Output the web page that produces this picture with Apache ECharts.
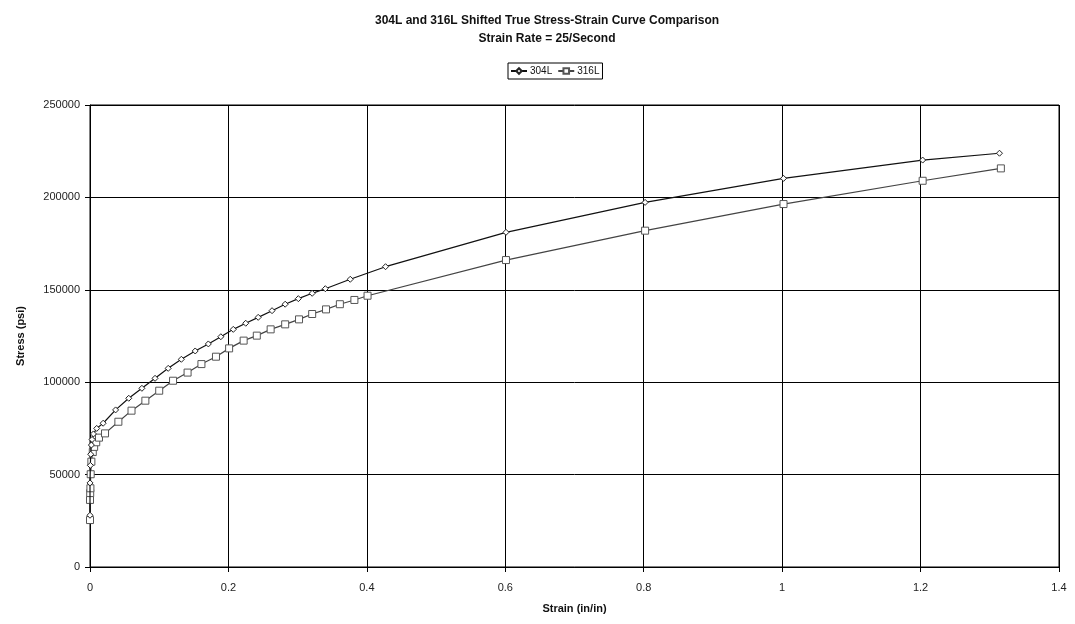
<!DOCTYPE html>
<html>
<head>
<meta charset="utf-8">
<script src="https://cdn.jsdelivr.net/npm/echarts@6/dist/echarts.min.js"></script>
<style>html,body{margin:0;padding:0;background:#fff;}#c{width:1075px;height:624px;}</style>
</head>
<body>
<div id="c"></div>
<script>
const titleText = "304L and 316L Shifted True Stress-Strain Curve Comparison\nStrain Rate = 25/Second";
const xName = "Strain (in/in)";
const yName = "Stress (psi)";
const xTicks = [0, 0.2, 0.4, 0.6, 0.8, 1, 1.2, 1.4];
const yTicks = [0, 50000, 100000, 150000, 200000, 250000];

const strain304 = [0, 0, 0.0005, 0.001, 0.002, 0.003, 0.005, 0.0097, 0.019, 0.037, 0.056, 0.075, 0.094, 0.113, 0.132, 0.152, 0.171, 0.189, 0.207, 0.225, 0.243, 0.263, 0.282, 0.301, 0.321, 0.340, 0.376, 0.427, 0.601, 0.802, 1.002, 1.203, 1.314];
const stress304 = [28000, 45500, 55000, 61000, 66000, 69000, 72000, 75000, 77800, 85000, 91300, 96700, 102100, 107500, 112400, 116900, 120700, 124600, 128600, 131900, 135100, 138700, 142200, 145200, 148100, 150600, 155700, 162500, 181100, 197300, 210300, 220200, 223900];

const strain316 = [0, 0, 0.0003, 0.0006, 0.001, 0.002, 0.004, 0.006, 0.009, 0.013, 0.0217, 0.041, 0.060, 0.080, 0.100, 0.120, 0.141, 0.161, 0.182, 0.201, 0.222, 0.241, 0.261, 0.282, 0.302, 0.321, 0.341, 0.361, 0.382, 0.401, 0.601, 0.802, 1.002, 1.203, 1.316];
const stress316 = [25400, 36300, 40000, 42600, 50200, 57000, 62200, 65000, 67500, 70000, 72300, 78600, 84600, 90000, 95400, 100800, 105200, 109800, 113800, 118300, 122500, 125200, 128600, 131300, 134000, 136900, 139400, 142200, 144500, 146800, 166100, 182000, 196400, 209000, 215700];

const zip = (a, b) => a.map((v, i) => [v, b[i]]);

const chart = echarts.init(document.getElementById('c'), null, {renderer: 'canvas'});
const font = 'Liberation Sans, Arial, sans-serif';
chart.setOption({
  animation: false,
  backgroundColor: '#fff',
  title: {
    text: titleText,
    left: 542, textAlign: 'center', top: 7,
    textStyle: {fontFamily: font, fontSize: 12, fontWeight: 'bold', color: '#111', lineHeight: 18}
  },
  legend: {
    top: 63, left: 508,
    data: ['304L', '316L'],
    itemWidth: 16, itemHeight: 7, itemGap: 5,
    padding: [3, 3, 3, 2],
    borderColor: '#000', borderWidth: 1,
    textStyle: {fontFamily: font, fontSize: 10, color: '#111', padding: [0,0,0,-2]}
  },
  grid: {left: 90, right: 16, top: 105, bottom: 57, show: true, borderColor: '#000', borderWidth: 1},
  xAxis: {
    type: 'value', min: 0, max: 1.4, interval: 0.2,
    name: xName, nameLocation: 'middle', nameGap: 36,
    nameTextStyle: {fontFamily: font, fontSize: 11, fontWeight: 'bold', color: '#111'},
    axisLine: {lineStyle: {color: '#000', width: 1}},
    axisTick: {show: true, length: 5, lineStyle: {color: '#000'}},
    axisLabel: {fontFamily: font, fontSize: 11, color: '#222', margin: 15,
      formatter: v => String(+v.toFixed(1))},
    splitLine: {show: true, lineStyle: {color: '#000', width: 1}}
  },
  yAxis: {
    type: 'value', min: 0, max: 250000, interval: 50000,
    name: yName, nameLocation: 'middle', nameGap: 64, nameRotate: 90,
    nameTextStyle: {fontFamily: font, fontSize: 11, fontWeight: 'bold', color: '#111'},
    axisLine: {show: true, lineStyle: {color: '#000', width: 1}},
    axisTick: {show: true, length: 5, lineStyle: {color: '#000'}},
    axisLabel: {fontFamily: font, fontSize: 11, color: '#222', margin: 10,
      formatter: v => String(v)},
    splitLine: {show: true, lineStyle: {color: '#000', width: 1}}
  },
  series: [
    {
      name: '304L', type: 'line', data: zip(strain304, stress304),
      symbol: 'diamond', symbolSize: 6, showAllSymbol: true,
      lineStyle: {color: '#111', width: 1.2},
      itemStyle: {color: '#fff', borderColor: '#222', borderWidth: 1},
      color: '#111', z: 3
    },
    {
      name: '316L', type: 'line', data: zip(strain316, stress316),
      symbol: 'rect', symbolSize: 7, showAllSymbol: true,
      lineStyle: {color: '#444', width: 1.2},
      itemStyle: {color: '#fff', borderColor: '#555', borderWidth: 1},
      color: '#444', z: 2
    }
  ]
});
</script>
</body>
</html>
